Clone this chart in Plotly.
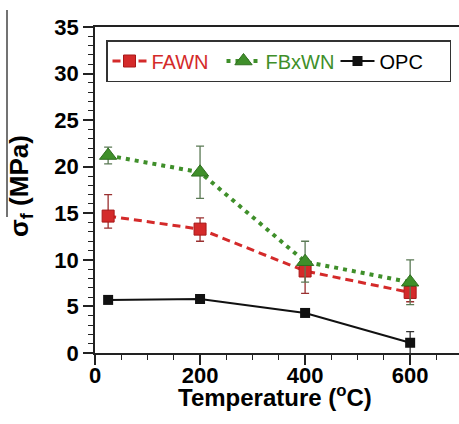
import plotly.graph_objects as go

# Flexural strength vs. exposure temperature
temps = [25, 200, 400, 600]

fawn = [14.7, 13.3, 8.8, 6.5]
fawn_err_plus = [2.3, 1.2, 1.2, 1.0]
fawn_err_minus = [1.3, 1.3, 2.4, 1.0]

fbxwn = [21.2, 19.4, 9.8, 7.6]
fbxwn_err = [0.9, 2.8, 2.2, 2.4]

opc = [5.7, 5.8, 4.3, 1.1]
opc_err = [0, 0, 0, 1.2]

RED = "#d42a2a"
GREEN = "#3f8f2a"
BLACK = "#111111"
SANS = "Liberation Sans, Arial"

fig = go.Figure()

fig.add_trace(go.Scatter(
    x=temps, y=fawn, mode="lines+markers",
    name=f"<span style='color:{RED}'>FAWN</span>",
    line=dict(color=RED, width=3, dash="8px,5px"),
    marker=dict(symbol="square", size=12, color=RED, line=dict(color="#a81818", width=1)),
    error_y=dict(type="data", symmetric=False, array=fawn_err_plus, arrayminus=fawn_err_minus,
                 color="#9a3030", thickness=1.3, width=4),
))
fig.add_trace(go.Scatter(
    x=temps, y=fbxwn, mode="lines+markers",
    name=f"<span style='color:{GREEN}'>FBxWN</span>",
    line=dict(color=GREEN, width=4, dash="4px,5px"),
    marker=dict(symbol="triangle-up", size=15, color=GREEN, line=dict(color="#2f6f1f", width=1)),
    error_y=dict(type="data", array=fbxwn_err, color="#5b7a55", thickness=1.3, width=4),
))
fig.add_trace(go.Scatter(
    x=temps, y=opc, mode="lines+markers",
    name="OPC",
    line=dict(color=BLACK, width=2),
    marker=dict(symbol="square", size=10, color=BLACK),
    error_y=dict(type="data", array=opc_err, color="#333333", thickness=1.3, width=4),
))

axis_common = dict(
    showgrid=False, zeroline=False, showline=True, linecolor="#222", linewidth=1.5,
    ticks="outside", ticklen=10, tickwidth=1.5, tickcolor="#222",
)

fig.update_xaxes(
    **axis_common, range=[0, 693], tickvals=[0, 200, 400, 600], mirror=True,
    ticklabelstandoff=-8,
    tickfont=dict(family=SANS, size=22, color="black", weight="bold"),
    minor=dict(dtick=50, ticks="outside", ticklen=5, tickcolor="#222", tickwidth=1.2),
)
fig.update_yaxes(
    **axis_common, range=[0, 35], dtick=5,
    tickfont=dict(family=SANS, size=22, color="black", weight="bold"),
    minor=dict(dtick=1, ticks="outside", ticklen=5, tickcolor="#222", tickwidth=1.2),
)

# axis titles
fig.add_annotation(
    text="Temperature (<sup>o</sup>C)", showarrow=False,
    xref="paper", yref="paper", x=(275 - 95) / 364, y=(353 - 379) / 326,
    xanchor="center", yanchor="top",
    font=dict(family=SANS, size=24, color="black", weight="bold"),
)
fig.add_annotation(
    text="σ<sub>f</sub> (MPa)", textangle=-90, showarrow=False,
    xref="paper", yref="paper", x=(20 - 95) / 364, y=(353 - 186) / 326,
    xanchor="center", yanchor="middle",
    font=dict(family=SANS, size=26, color="black", weight="bold"),
)
fig.add_shape(
    type="line", xref="paper", yref="paper",
    x0=(7 - 95) / 364, x1=(7 - 95) / 364, y0=(353 - 217) / 326, y1=(353 - 10) / 326,
    line=dict(color="#444", width=1.5),
)

fig.update_layout(
    width=459, height=424,
    margin=dict(l=95, r=0, t=27, b=71),
    paper_bgcolor="white", plot_bgcolor="white",
    showlegend=True,
    legend=dict(
        orientation="h", x=(106 - 95) / 364, y=(353 - 40) / 326,
        xanchor="left", yanchor="top",
        bordercolor="#333", borderwidth=1.5, bgcolor="white",
        font=dict(family=SANS, size=20, color="black"),
        itemwidth=34, entrywidth=65, entrywidthmode="pixels",
    ),
)

fig.write_html("out.html")
